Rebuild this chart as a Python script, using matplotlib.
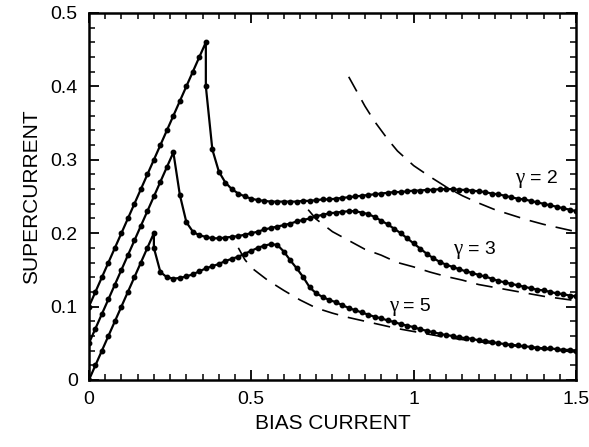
import matplotlib
matplotlib.use("Agg")
import matplotlib.pyplot as plt
from matplotlib.ticker import MultipleLocator

plt.rcParams['font.family'] = ['Liberation Sans', 'DejaVu Sans']

# gamma = 2 (solid with dots)
x_g2 = [0.00, 0.02, 0.04, 0.06, 0.08, 0.10, 0.12, 0.14, 0.16, 0.18, 0.20, 0.22,
        0.24, 0.26, 0.28, 0.30, 0.32, 0.34, 0.36, 0.36, 0.38, 0.40, 0.42, 0.44,
        0.46, 0.48, 0.50, 0.52, 0.54, 0.56, 0.58, 0.60, 0.62, 0.64, 0.66, 0.68,
        0.70, 0.72, 0.74, 0.76, 0.78, 0.80, 0.82, 0.84, 0.86, 0.88, 0.90, 0.92,
        0.94, 0.96, 0.98, 1.00, 1.02, 1.04, 1.06, 1.08, 1.10, 1.12, 1.14, 1.16,
        1.18, 1.20, 1.22, 1.24, 1.26, 1.28, 1.30, 1.32, 1.34, 1.36, 1.38, 1.40,
        1.42, 1.44, 1.46, 1.48, 1.50]
y_g2 = [0.100, 0.120, 0.140, 0.160, 0.180, 0.200, 0.220, 0.240, 0.260, 0.280, 0.300, 0.320,
        0.340, 0.360, 0.380, 0.400, 0.420, 0.440, 0.460, 0.400, 0.314, 0.284, 0.269, 0.260,
        0.254, 0.250, 0.247, 0.245, 0.244, 0.243, 0.243, 0.243, 0.243, 0.243, 0.244, 0.244,
        0.245, 0.246, 0.246, 0.247, 0.248, 0.249, 0.250, 0.251, 0.252, 0.253, 0.254, 0.255,
        0.256, 0.256, 0.257, 0.258, 0.258, 0.259, 0.259, 0.260, 0.260, 0.260, 0.259, 0.259,
        0.258, 0.257, 0.256, 0.254, 0.253, 0.251, 0.249, 0.247, 0.246, 0.244, 0.242, 0.240,
        0.238, 0.236, 0.234, 0.232, 0.230]

# gamma = 3
x_g3 = [0.00, 0.02, 0.04, 0.06, 0.08, 0.10, 0.12, 0.14, 0.16, 0.18, 0.20, 0.22,
        0.24, 0.26, 0.28, 0.30, 0.32, 0.34, 0.36, 0.38, 0.40, 0.42, 0.44, 0.46,
        0.48, 0.50, 0.52, 0.54, 0.56, 0.58, 0.60, 0.62, 0.64, 0.66, 0.68, 0.70,
        0.72, 0.74, 0.76, 0.78, 0.80, 0.82, 0.84, 0.86, 0.88, 0.90, 0.92, 0.94,
        0.96, 0.98, 1.00, 1.02, 1.04, 1.06, 1.08, 1.10, 1.12, 1.14, 1.16, 1.18,
        1.20, 1.22, 1.24, 1.26, 1.28, 1.30, 1.32, 1.34, 1.36, 1.38, 1.40, 1.42,
        1.44, 1.46, 1.48, 1.50]
y_g3 = [0.050, 0.070, 0.090, 0.110, 0.130, 0.150, 0.170, 0.190, 0.210, 0.230, 0.250, 0.270,
        0.290, 0.310, 0.252, 0.215, 0.202, 0.197, 0.195, 0.193, 0.193, 0.194, 0.195, 0.196,
        0.198, 0.200, 0.202, 0.205, 0.207, 0.209, 0.211, 0.213, 0.216, 0.218, 0.220, 0.223,
        0.225, 0.227, 0.228, 0.229, 0.230, 0.230, 0.228, 0.226, 0.222, 0.217, 0.212, 0.206,
        0.200, 0.193, 0.186, 0.179, 0.172, 0.166, 0.161, 0.157, 0.154, 0.151, 0.148, 0.146,
        0.143, 0.141, 0.138, 0.135, 0.133, 0.131, 0.129, 0.127, 0.125, 0.123, 0.122, 0.120,
        0.118, 0.117, 0.115, 0.114]

# gamma = 5
x_g5 = [0.00, 0.02, 0.04, 0.06, 0.08, 0.10, 0.12, 0.14, 0.16, 0.18, 0.20, 0.20,
        0.22, 0.24, 0.26, 0.28, 0.30, 0.32, 0.34, 0.36, 0.38, 0.40, 0.42, 0.44,
        0.46, 0.48, 0.50, 0.52, 0.54, 0.56, 0.58, 0.60, 0.62, 0.64, 0.66, 0.68,
        0.70, 0.72, 0.74, 0.76, 0.78, 0.80, 0.82, 0.84, 0.86, 0.88, 0.90, 0.92,
        0.94, 0.96, 0.98, 1.00, 1.02, 1.04, 1.06, 1.08, 1.10, 1.12, 1.14, 1.16,
        1.18, 1.20, 1.22, 1.24, 1.26, 1.28, 1.30, 1.32, 1.34, 1.36, 1.38, 1.40,
        1.42, 1.44, 1.46, 1.48, 1.50]
y_g5 = [0.000, 0.020, 0.040, 0.060, 0.080, 0.100, 0.120, 0.140, 0.160, 0.180, 0.200, 0.180,
        0.147, 0.140, 0.138, 0.139, 0.141, 0.144, 0.148, 0.152, 0.155, 0.158, 0.162, 0.165,
        0.168, 0.172, 0.176, 0.180, 0.183, 0.185, 0.184, 0.175, 0.163, 0.152, 0.140, 0.126,
        0.118, 0.113, 0.109, 0.106, 0.102, 0.098, 0.095, 0.092, 0.089, 0.086, 0.084, 0.081,
        0.079, 0.076, 0.074, 0.072, 0.069, 0.067, 0.065, 0.063, 0.061, 0.060, 0.058, 0.057,
        0.056, 0.054, 0.053, 0.052, 0.050, 0.049, 0.048, 0.047, 0.046, 0.045, 0.044, 0.043,
        0.043, 0.042, 0.041, 0.041, 0.040]

# dashed asymptotic curves
xd_g2 = [0.80, 0.82, 0.85, 0.88, 0.90, 0.92, 0.95, 1.00, 1.05, 1.10, 1.15, 1.20,
         1.25, 1.30, 1.35, 1.40, 1.45, 1.50]
yd_g2 = [0.413, 0.397, 0.373, 0.352, 0.340, 0.328, 0.312, 0.292, 0.277, 0.263, 0.251, 0.241,
         0.232, 0.225, 0.218, 0.212, 0.207, 0.202]
xd_g3 = [0.675, 0.70, 0.75, 0.80, 0.85, 0.90, 0.95, 1.00, 1.05, 1.10, 1.15, 1.20,
         1.25, 1.30, 1.35, 1.40, 1.45, 1.50]
yd_g3 = [0.232, 0.219, 0.202, 0.190, 0.178, 0.170, 0.160, 0.154, 0.147, 0.141, 0.136, 0.130,
         0.126, 0.122, 0.118, 0.114, 0.111, 0.108]
xd_g5 = [0.46, 0.48, 0.50, 0.55, 0.60, 0.65, 0.70, 0.75, 0.80, 0.85, 0.90, 0.95,
         1.00, 1.10, 1.20, 1.30, 1.40, 1.50]
yd_g5 = [0.180, 0.164, 0.153, 0.136, 0.122, 0.109, 0.098, 0.091, 0.085, 0.080, 0.075, 0.070,
         0.066, 0.058, 0.052, 0.047, 0.042, 0.038]

gammas = ["2", "3", "5"]
label_pos = [(1.38, 0.274), (1.188, 0.178), (0.99, 0.100)]

fig = plt.figure(figsize=(5.89, 4.47), dpi=100)
ax = fig.add_axes([0.151, 0.150, 0.827, 0.821])

for xs, ys in [(x_g2, y_g2), (x_g3, y_g3), (x_g5, y_g5)]:
    ax.plot(xs, ys, color="black", lw=1.6, marker="o", ms=3.2, zorder=3)

for xs, ys in [(xd_g2, yd_g2), (xd_g3, yd_g3), (xd_g5, yd_g5)]:
    ax.plot(xs, ys, color="black", lw=1.2, dashes=(10, 6))

# gamma in a serif face, the rest in sans, like the original
for g, (tx, ty) in zip(gammas, label_pos):
    ax.annotate("\u03b3", (tx, ty), xytext=(-9, 0), textcoords="offset points",
                fontsize=15, ha="right", va="center", family="Liberation Serif")
    ax.annotate("= " + g, (tx, ty), xytext=(-5, 0), textcoords="offset points",
                fontsize=14, ha="left", va="center")

ax.set_xlim(0, 1.5)
ax.set_ylim(0, 0.5)
ax.set_xticks([0, 0.5, 1, 1.5])
ax.set_xticklabels(["0", "0.5", "1", "1.5"])
ax.set_yticks([0, 0.1, 0.2, 0.3, 0.4, 0.5])
ax.set_yticklabels(["0", "0.1", "0.2", "0.3", "0.4", "0.5"])
ax.xaxis.set_minor_locator(MultipleLocator(0.05))
ax.yaxis.set_minor_locator(MultipleLocator(0.02))
ax.tick_params(which="both", direction="in", top=True, right=True, labelsize=14)
ax.tick_params(which="major", length=7, width=1.3, pad=8)
ax.tick_params(which="minor", length=4, width=1.1)
for s in ax.spines.values():
    s.set_linewidth(1.8)

ax.set_xlabel("BIAS CURRENT", fontsize=15, labelpad=4)
ax.set_ylabel("SUPERCURRENT", fontsize=15, labelpad=7)

fig.savefig("out.png", dpi=100)
